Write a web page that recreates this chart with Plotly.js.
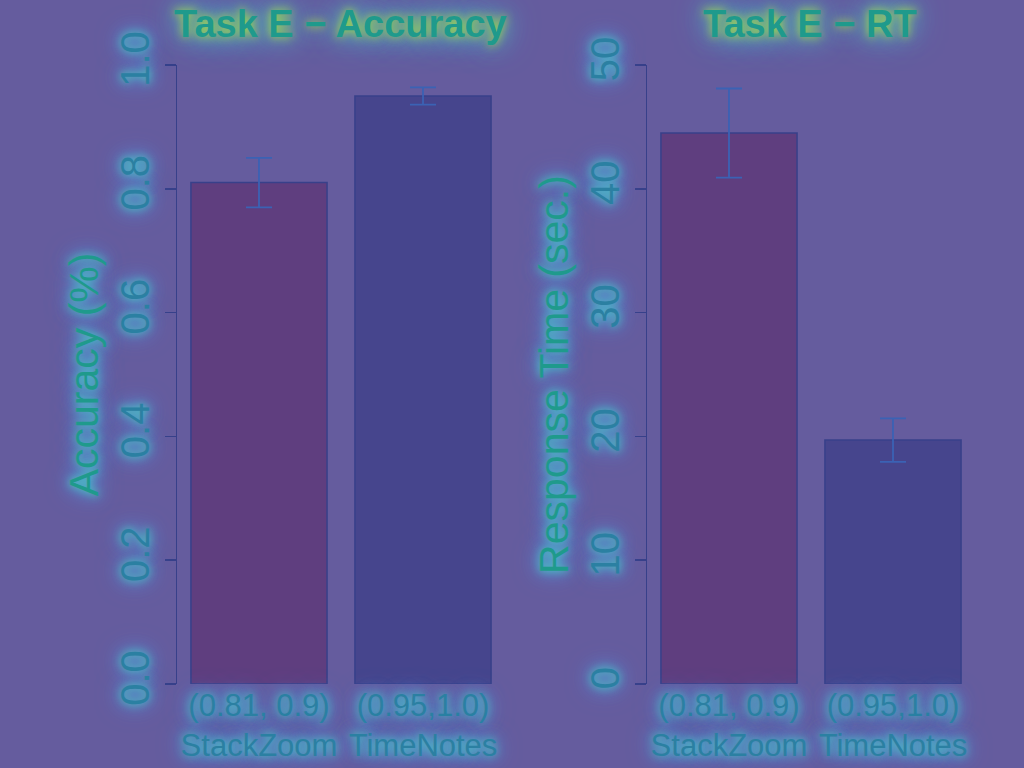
<!DOCTYPE html>
<html>
<head>
<meta charset="utf-8">
<script src="https://cdn.plot.ly/plotly-3.0.1.min.js"></script>
<style>
html,body{margin:0;padding:0;background:#655c9e;}
#chart{width:1024px;height:768px;}
</style>
</head>
<body>
<div id="chart"></div>
<script>
// ---- data ----
const tools = ["StackZoom", "TimeNotes"];
const ranges = ["(0.81, 0.9)", "(0.95,1.0)"];
const accuracy = [0.81, 0.95];
const accuracyErr = [0.04, 0.014];
const responseTime = [44.5, 19.7];
const responseTimeErr = [3.6, 1.75];
const titles = ["Task E \u2212 Accuracy", "Task E \u2212 RT"];
const yTitles = ["Accuracy (%)", "Response Time (sec.)"];
const accTicks = [0, 0.2, 0.4, 0.6, 0.8, 1.0];
const accTickText = ["0.0", "0.2", "0.4", "0.6", "0.8", "1.0"];
const rtTicks = [0, 10, 20, 30, 40, 50];

// ---- styles ----
const barColors = ["#5f3e7f", "#46458d"];
const lineCol = "#38408a";
const errCol = "#3b62b4";
const textCol = "#2b80a2";
const titleCol = "#1f9a8c";
const glow = "0 0 8px #45d8c0, 0 0 16px #4ab0f0, 0 0 26px #5a90f0";
const titleGlow = "0 0 10px #a8e040, 0 0 22px #50d8b0, 0 0 34px #4ab0f0";
const fam = "Liberation Sans, Arial, sans-serif";
const tickFont = {family: fam, size: 40, color: textCol, shadow: glow};
const xTickFont = {family: fam, size: 31, color: textCol, shadow: glow};
const yTitleFont = {family: fam, size: 41, color: titleCol, shadow: glow};

const xLabels = ranges.map((r, i) => r + "<br>" + tools[i]);

const traces = [
  {
    type: "bar", x: tools, y: accuracy, xaxis: "x", yaxis: "y",
    marker: {color: barColors, line: {color: lineCol, width: 1.5}},
    error_y: {type: "data", array: accuracyErr, visible: true, color: errCol, thickness: 1.8, width: 13},
    hoverinfo: "none"
  },
  {
    type: "bar", x: tools, y: responseTime, xaxis: "x2", yaxis: "y2",
    marker: {color: barColors, line: {color: lineCol, width: 1.5}},
    error_y: {type: "data", array: responseTimeErr, visible: true, color: errCol, thickness: 1.8, width: 13},
    hoverinfo: "none"
  }
];

const yDomain = [1 - 684/768, 1 - 65/768];

const xCommon = {
  type: "category", range: [-0.5, 1.5], showline: false, showgrid: false, zeroline: false,
  ticks: "", tickmode: "array", tickvals: tools, ticktext: xLabels, tickfont: xTickFont,
  fixedrange: true
};
const yCommon = {
  showline: true, linecolor: lineCol, linewidth: 1.5, showgrid: false, zeroline: false,
  ticks: "outside", ticklen: 11, tickwidth: 1.5, tickcolor: lineCol, tickangle: -90,
  tickfont: tickFont, domain: yDomain, fixedrange: true, automargin: false
};

const layout = {
  width: 1024, height: 768,
  margin: {l: 0, r: 0, t: 0, b: 0},
  paper_bgcolor: "#655c9e", plot_bgcolor: "#655c9e",
  showlegend: false, bargap: 0.17,
  xaxis: Object.assign({}, xCommon, {domain: [177/1024, 505/1024], anchor: "y"}),
  xaxis2: Object.assign({}, xCommon, {domain: [647/1024, 975/1024], anchor: "y2"}),
  yaxis: Object.assign({}, yCommon, {
    anchor: "x", range: [0, 1], tickvals: accTicks, ticktext: accTickText, tickmode: "array",
    title: {text: yTitles[0], font: yTitleFont, standoff: 1}
  }),
  yaxis2: Object.assign({}, yCommon, {
    anchor: "x2", range: [0, 50], tickvals: rtTicks, tickmode: "array",
    title: {text: yTitles[1], font: yTitleFont, standoff: 1}
  }),
  annotations: [
    {text: "<b>" + titles[0] + "</b>", xref: "paper", yref: "paper", x: 340/1024, y: 1 - 47/768,
     xanchor: "center", yanchor: "bottom", showarrow: false,
     font: {family: fam, size: 38, color: titleCol, shadow: titleGlow}},
    {text: "<b>" + titles[1] + "</b>", xref: "paper", yref: "paper", x: 810/1024, y: 1 - 47/768,
     xanchor: "center", yanchor: "bottom", showarrow: false,
     font: {family: fam, size: 38, color: titleCol, shadow: titleGlow}}
  ]
};

Plotly.newPlot("chart", traces, layout, {displayModeBar: false, staticPlot: true});
</script>
</body>
</html>
